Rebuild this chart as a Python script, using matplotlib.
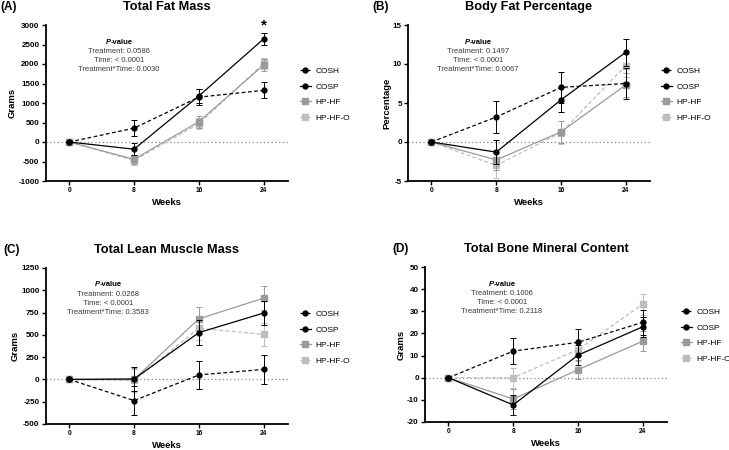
import matplotlib
matplotlib.use('Agg')
import matplotlib.pyplot as plt

plt.rcParams['font.family'] = ['Liberation Sans', 'DejaVu Sans']
plt.rcParams['axes.unicode_minus'] = False

weeks = [0, 8, 16, 24]
groups = ['COSH', 'COSP', 'HP-HF', 'HP-HF-O']

# (A) Total Fat Mass
fat_cosh = [0, 355, 1150, 1325]
fat_cosh_err = [0, 205, 200, 205]
fat_cosp = [0, -185, 1180, 2645]
fat_cosp_err = [0, 150, 170, 160]
fat_hphf = [0, -445, 520, 1975]
fat_hphf_err = [0, 120, 150, 160]
fat_hphfo = [0, -470, 465, 2015]
fat_hphfo_err = [0, 130, 140, 150]

# (B) Body Fat Percentage
pct_cosh = [0, 3.2, 7.0, 7.5]
pct_cosh_err = [0, 2.0, 2.0, 2.0]
pct_cosp = [0, -1.3, 5.4, 11.5]
pct_cosp_err = [0, 1.5, 1.6, 1.7]
pct_hphf = [0, -2.3, 1.3, 7.3]
pct_hphf_err = [0, 1.3, 1.4, 1.5]
pct_hphfo = [0, -3.0, 1.2, 9.8]
pct_hphfo_err = [0, 1.6, 1.5, 1.5]

# (C) Total Lean Muscle Mass
lean_cosh = [0, -237, 50, 113]
lean_cosh_err = [0, 160, 160, 160]
lean_cosp = [0, 5, 525, 745]
lean_cosp_err = [0, 130, 140, 135]
lean_hphf = [0, 0, 680, 912]
lean_hphf_err = [0, 130, 130, 135]
lean_hphfo = [0, -12, 575, 505]
lean_hphfo_err = [0, 125, 130, 130]

# (D) Total Bone Mineral Content
bone_cosh = [0, 12.0, 16.0, 25.0]
bone_cosh_err = [0, 6.0, 6.0, 5.5]
bone_cosp = [0, -12.3, 10.2, 23.0]
bone_cosp_err = [0, 4.5, 4.5, 4.5]
bone_hphf = [0, -9.6, 3.6, 16.5]
bone_hphf_err = [0, 4.5, 4.4, 4.5]
bone_hphfo = [0, 0.0, 12.7, 33.2]
bone_hphfo_err = [0, 4.5, 5.0, 4.7]

pvals_a = ['0.0586', '< 0.0001', '0.0030']
pvals_b = ['0.1497', '< 0.0001', '0.0067']
pvals_c = ['0.0268', '< 0.0001', '0.3583']
pvals_d = ['0.1006', '< 0.0001', '0.2118']

styles = [
    dict(color='black', ls=(0, (3, 2)), marker='o', ms=3.5),
    dict(color='black', ls='-', marker='o', ms=3.5),
    dict(color='#9a9a9a', ls='-', marker='s', ms=3.8),
    dict(color='#bdbdbd', ls=(0, (3, 2)), marker='s', ms=3.8),
]

W, H = 729, 450
fig = plt.figure(figsize=(W / 100, H / 100), dpi=100)


def px(x, y):
    return x / W, 1 - y / H


def panel(rect, letter, letter_x, title, ylabel, ylim, yticks, series, errs,
          pvals, ann_xy, leg_xy):
    l, t, r, b = rect
    ax = fig.add_axes([l / W, 1 - b / H, (r - l) / W, (b - t) / H])
    ax.axhline(0, color='#888888', ls=(0, (1, 2)), lw=0.9, zorder=0)
    handles = []
    for i in range(4):
        st = styles[i]
        ax.errorbar(weeks, series[i], yerr=errs[i], color=st['color'],
                    ls='none', elinewidth=0.7, capsize=2.2, capthick=0.7,
                    zorder=5 - i)
        ln, = ax.plot(weeks, series[i], color=st['color'], ls=st['ls'],
                      marker=st['marker'], ms=st['ms'], lw=0.9,
                      label=groups[i], zorder=5 - i)
        handles.append(ln)
    ax.set_xlim(-2.9, 27)
    ax.set_ylim(*ylim)
    ax.set_xticks(weeks)
    ax.set_yticks(yticks)
    for s in ['top', 'right']:
        ax.spines[s].set_visible(False)
    for s in ['left', 'bottom']:
        ax.spines[s].set_linewidth(1.3)
    ax.tick_params(axis='both', width=1.0, length=3, pad=1.5)
    ax.tick_params(axis='y', labelsize=5.8)
    ax.tick_params(axis='x', labelsize=4.8)
    for lab in ax.get_xticklabels() + ax.get_yticklabels():
        lab.set_fontweight('bold')
    ax.set_xlabel('Weeks', fontsize=6.8, fontweight='bold', labelpad=2.5)
    ax.set_ylabel(ylabel, fontsize=6.8, fontweight='bold', labelpad=1)
    cx = (l + r) / 2
    fig.text(*px(cx, t - 18), title, fontsize=9.2, fontweight='bold',
             ha='center', va='center')
    fig.text(*px(letter_x, t - 18), letter, fontsize=8.5, fontweight='bold',
             ha='left', va='center')
    ax_, ay_ = ann_xy
    fig.text(*px(ax_ - 8.5, ay_), 'P', fontsize=5.5, fontweight='bold',
             fontstyle='italic', ha='right', va='center')
    fig.text(*px(ax_ - 8.5, ay_), '-value', fontsize=5.5, fontweight='bold',
             ha='left', va='center')
    lines = ['Treatment: ' + pvals[0], 'Time: ' + pvals[1],
             'Treatment*Time: ' + pvals[2]]
    for k, s in enumerate(lines):
        fig.text(*px(ax_, ay_ + 9.3 * (k + 1)), s, fontsize=5.5,
                 color='#3a3a3a', ha='center', va='center')
    ax.legend(handles, groups, loc='upper left',
              bbox_to_anchor=px(*leg_xy), bbox_transform=fig.transFigure,
              frameon=False, fontsize=6, handlelength=1.3,
              handletextpad=0.6, labelspacing=0.95, borderaxespad=0,
              borderpad=0)
    return ax


ax_a = panel((45.7, 25, 288, 181), '(A)', 0, 'Total Fat Mass', 'Grams',
             (-1000, 3000), range(-1000, 3001, 500),
             [fat_cosh, fat_cosp, fat_hphf, fat_hphfo],
             [fat_cosh_err, fat_cosp_err, fat_hphf_err, fat_hphfo_err],
             pvals_a, (119, 42), (300, 67))
ax_a.text(24, 2980, '*', fontsize=11, fontweight='bold', ha='center',
          va='center')

panel((408, 25, 650, 181), '(B)', 372, 'Body Fat Percentage', 'Percentage',
      (-5, 15), range(-5, 16, 5),
      [pct_cosh, pct_cosp, pct_hphf, pct_hphfo],
      [pct_cosh_err, pct_cosp_err, pct_hphf_err, pct_hphfo_err],
      pvals_b, (478, 42), (661, 67))

panel((45.7, 268, 288, 424), '(C)', 3, 'Total Lean Muscle Mass', 'Grams',
      (-500, 1250), range(-500, 1251, 250),
      [lean_cosh, lean_cosp, lean_hphf, lean_hphfo],
      [lean_cosh_err, lean_cosp_err, lean_hphf_err, lean_hphfo_err],
      pvals_c, (108, 285), (300, 310))

panel((425, 267, 667, 422), '(D)', 392, 'Total Bone Mineral Content', 'Grams',
      (-20, 50), range(-20, 51, 10),
      [bone_cosh, bone_cosp, bone_hphf, bone_hphfo],
      [bone_cosh_err, bone_cosp_err, bone_hphf_err, bone_hphfo_err],
      pvals_d, (502, 284), (681, 308))

fig.savefig('out.png', dpi=100)
